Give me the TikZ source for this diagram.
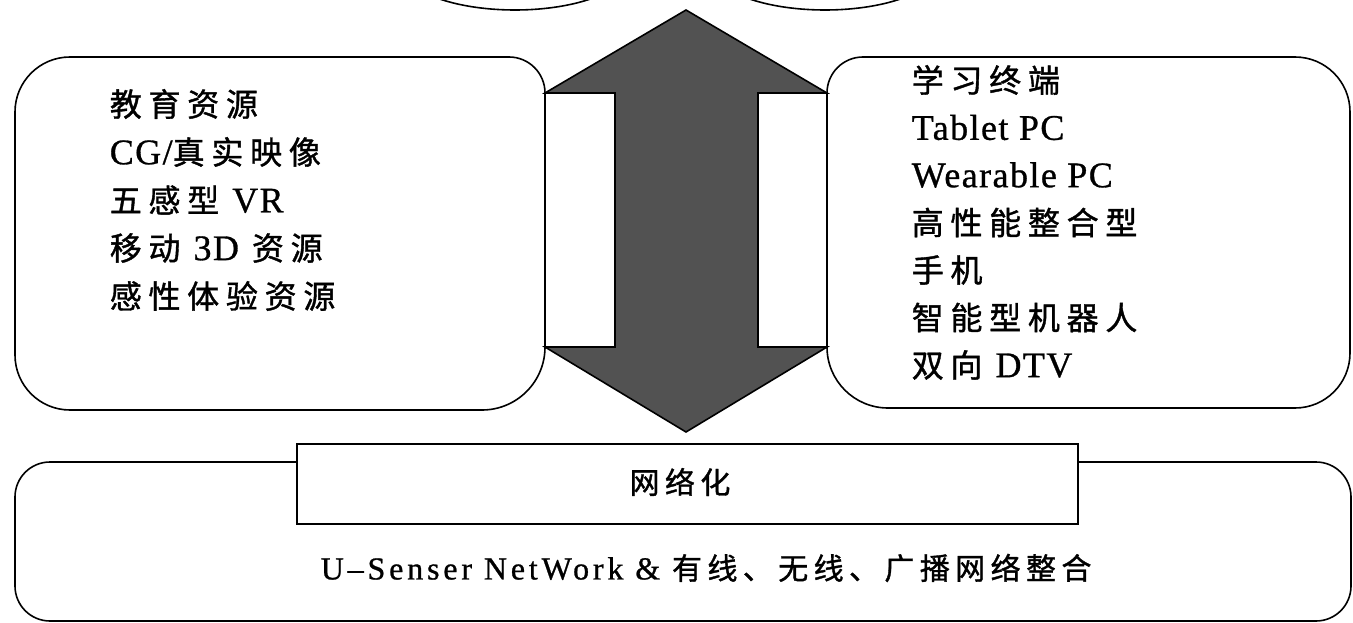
\documentclass[tikz,border=0pt]{standalone}
\usepackage{fontspec}
\setmainfont{Liberation Serif}
\newfontfamily\zhfa[LetterSpace=21,FakeBold=1.2]{Noto Sans CJK SC}
\newfontfamily\enfa[LetterSpace=4,FakeBold=0.8]{Liberation Serif}
\newfontfamily\zhfb[LetterSpace=18,FakeBold=1.2]{Noto Sans CJK SC}
\newfontfamily\enfb[LetterSpace=12,FakeBold=0.8]{Liberation Serif}
\newcommand\zh[1]{{\fontsize{32}{32}\zhfa #1}}
\newcommand\zhb[1]{{\fontsize{30}{30}\zhfb #1}}
\newcommand\gap{\hspace{13pt}}
\begin{document}
\begin{tikzpicture}[x=1pt,y=-1pt,line width=1.6pt,
  txt/.style={anchor=west,inner sep=0pt,font=\fontsize{36}{36}\enfa},
  arrowfill/.style={draw,fill=black!68,line join=miter}]
\useasboundingbox (0,0) rectangle (1353,623);
% top ellipses (cut off by the page edge)
\draw (515,-35) ellipse [x radius=115pt,y radius=45pt];
\draw (825,-35) ellipse [x radius=115pt,y radius=45pt];
% left box
\coordinate (lbox) at (280,233);
\draw (70,57) -- (509,57) arc[start angle=90,end angle=0,radius=36pt]
  -- (545,347) arc[start angle=0,end angle=-90,radius=63pt]
  -- (70,410) arc[start angle=-90,end angle=-180,radius=55pt]
  -- (15,112) arc[start angle=180,end angle=90,radius=55pt] -- cycle;
% right box
\coordinate (rbox) at (1088,233);
\draw (863,57) -- (1295,57) arc[start angle=90,end angle=0,radius=55pt]
  -- (1350,353) arc[start angle=0,end angle=-90,radius=55pt]
  -- (888,408) arc[start angle=-90,end angle=-180,radius=61pt]
  -- (827,93) arc[start angle=180,end angle=90,radius=36pt] -- cycle;
% double arrow
\draw[arrowfill] (686,10) -- (827,93) -- (758,93) -- (758,347) -- (827,347)
  -- (686,432) -- (545,347) -- (615,347) -- (615,93) -- (545,93) -- cycle;
% bottom boxes
\node[draw,rounded corners=35pt,inner sep=0pt,minimum width=1336pt,minimum height=159pt] (nbox) at (683,541.5) {};
\node[draw,fill=white,inner sep=0pt,minimum width=781pt,minimum height=80pt] (nrect) at (687.5,484) {};
% left texts
\node[txt] (l1) at (109,104) {\zh{教育资源}};
\node[txt] (l2) at (109,152) {CG/\zh{真实映像}};
\node[txt] (l3) at (109,200) {\zh{五感型}\gap VR};
\node[txt] (l4) at (109,248) {\zh{移动}\gap 3D\gap\zh{资源}};
\node[txt] (l5) at (109,296) {\zh{感性体验资源}};
% right texts
\node[txt] (r1) at (911,80) {\zh{学习终端}};
\node[txt] (r2) at (911,127.5) {Tablet PC};
\node[txt] (r3) at (911,175) {Wearable PC};
\node[txt] (r4) at (911,222.5) {\zh{高性能整合型}};
\node[txt] (r5) at (911,270) {\zh{手机}};
\node[txt] (r6) at (911,317.5) {\zh{智能型机器人}};
\node[txt] (r7) at (911,365) {\zh{双向}\gap DTV};
% bottom texts
\node[inner sep=0pt] (nlabel) at (680,482) {\zhb{网络化}};
\node[anchor=west,inner sep=0pt,font=\fontsize{32}{32}\enfb] (ulabel) at (320,568) {U–Senser NetWork \& \zhb{有线、无线、广播网络整合}};
\end{tikzpicture}
\end{document}
